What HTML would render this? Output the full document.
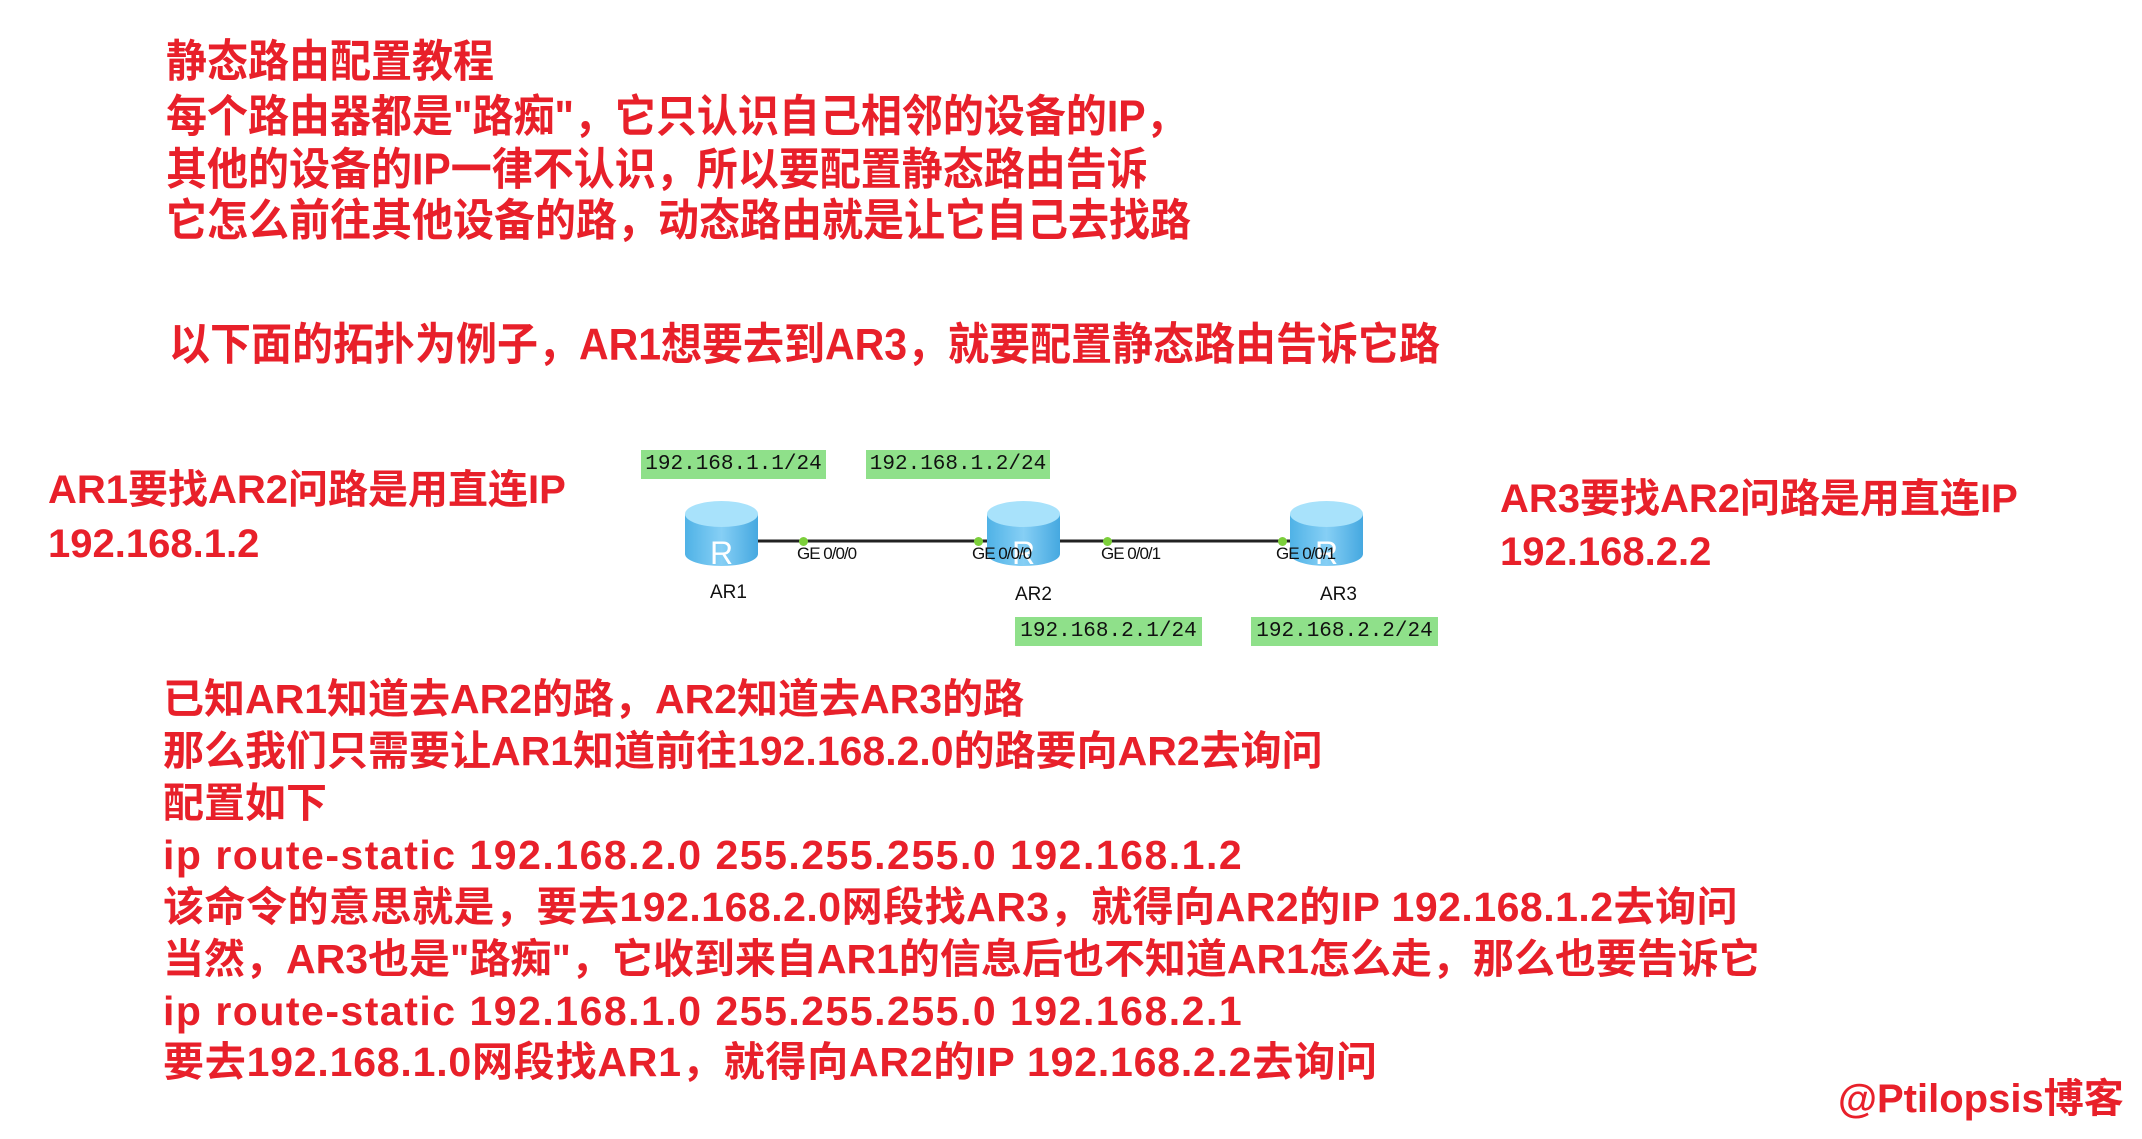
<!DOCTYPE html>
<html><head><meta charset="utf-8"><style>
body{margin:0;width:2142px;height:1139px;background:#fff;position:relative;overflow:hidden;font-family:"Liberation Sans","Noto Sans CJK SC",sans-serif}
.t{position:absolute;color:#e8202a;font-weight:bold;white-space:nowrap;line-height:1}
.top{font-size:41px;left:166px;transform:scaleY(1.08);transform-origin:0 0}
.b{font-size:41px;left:163px}
.g{position:absolute;background:#8fe08a;font-family:"Liberation Mono",monospace;font-size:21px;line-height:29px;text-align:center;color:#111}
.ge{position:absolute;font-size:17px;color:#111;letter-spacing:-1px;line-height:1}
.lab{position:absolute;font-size:19px;color:#111;line-height:1}
.dot{position:absolute;width:9px;height:9px;border-radius:50%;background:#7ccf3a}
</style></head><body>
<div class="t top" style="top:40px">静态路由配置教程</div>
<div class="t top" style="top:95px">每个路由器都是"路痴"，它只认识自己相邻的设备的IP，</div>
<div class="t top" style="top:148px">其他的设备的IP一律不认识，所以要配置静态路由告诉</div>
<div class="t top" style="top:199px">它怎么前往其他设备的路，动态路由就是让它自己去找路</div>
<div class="t top" style="top:323px;left:169px">以下面的拓扑为例子，AR1想要去到AR3，就要配置静态路由告诉它路</div>

<div class="t" style="font-size:40px;left:48px;top:470px">AR1要找AR2问路是用直连IP</div>
<div class="t" style="font-size:40px;left:48px;top:524px">192.168.1.2</div>
<div class="t" style="font-size:40px;left:1500px;top:479px">AR3要找AR2问路是用直连IP</div>
<div class="t" style="font-size:40px;left:1500px;top:532px">192.168.2.2</div>

<div class="g" style="left:641px;top:450px;width:185px">192.168.1.1/24</div>
<div class="g" style="left:866px;top:450px;width:184px">192.168.1.2/24</div>
<div class="g" style="left:1015px;top:617px;width:187px">192.168.2.1/24</div>
<div class="g" style="left:1251px;top:617px;width:187px">192.168.2.2/24</div>

<svg style="position:absolute;left:0;top:0" width="2142" height="1139">
<defs><linearGradient id="rg" x1="0" x2="1"><stop offset="0" stop-color="#4fb2e6"/><stop offset=".5" stop-color="#86cff5"/><stop offset="1" stop-color="#45a8e0"/></linearGradient></defs>
<line x1="758" y1="541" x2="1300" y2="541" stroke="#222" stroke-width="3"/>
<g id="r"><path d="M685 514 v40 a36.5 12 0 0 0 73 0 v-40 z" fill="url(#rg)"/><ellipse cx="721.5" cy="514" rx="36.5" ry="13" fill="#a8e2fb"/><text x="721.5" y="564" font-family="Liberation Sans" font-size="32" fill="#fff" text-anchor="middle">R</text></g>
<use href="#r" x="302"/>
<use href="#r" x="605"/>
</svg>
<div class="dot" style="left:799px;top:537px"></div>
<div class="dot" style="left:974px;top:537px"></div>
<div class="dot" style="left:1103px;top:537px"></div>
<div class="dot" style="left:1278px;top:537px"></div>
<div class="ge" style="left:797px;top:545px">GE 0/0/0</div>
<div class="ge" style="left:972px;top:545px">GE 0/0/0</div>
<div class="ge" style="left:1101px;top:545px">GE 0/0/1</div>
<div class="ge" style="left:1276px;top:545px">GE 0/0/1</div>
<div class="lab" style="left:710px;top:583px">AR1</div>
<div class="lab" style="left:1015px;top:585px">AR2</div>
<div class="lab" style="left:1320px;top:585px">AR3</div>

<div class="t b" style="top:679px">已知AR1知道去AR2的路，AR2知道去AR3的路</div>
<div class="t b" style="top:731px">那么我们只需要让AR1知道前往192.168.2.0的路要向AR2去询问</div>
<div class="t b" style="top:783px">配置如下</div>
<div class="t b" style="top:835px;letter-spacing:1.5px">ip route-static 192.168.2.0 255.255.255.0 192.168.1.2</div>
<div class="t b" style="top:887px;letter-spacing:0.5px">该命令的意思就是，要去192.168.2.0网段找AR3，就得向AR2的IP 192.168.1.2去询问</div>
<div class="t b" style="top:939px">当然，AR3也是"路痴"，它收到来自AR1的信息后也不知道AR1怎么走，那么也要告诉它</div>
<div class="t b" style="top:991px;letter-spacing:1.5px">ip route-static 192.168.1.0 255.255.255.0 192.168.2.1</div>
<div class="t b" style="top:1042px;letter-spacing:0.8px">要去192.168.1.0网段找AR1，就得向AR2的IP 192.168.2.2去询问</div>
<div class="t" style="font-size:40px;left:1838px;top:1079px">@Ptilopsis博客</div>
</body></html>
